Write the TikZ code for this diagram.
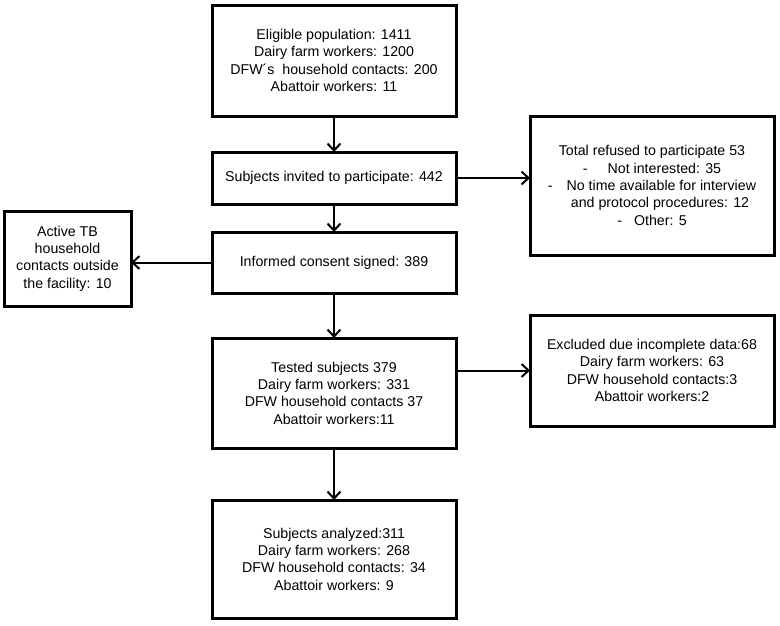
\documentclass[tikz,border=0pt]{standalone}
\usepackage{fontspec}
\setmainfont{Liberation Sans}
\usetikzlibrary{arrows.meta}
\usetikzlibrary{positioning}

\begin{document}
\begin{tikzpicture}[>={Straight Barb[length=7pt,width=13pt]},node distance=36pt,
                    box node/.style={rectangle,draw,line width=3pt,outer sep=0pt,minimum width=244pt,
                                     align=center,inner sep=2pt,font=\fontsize{14.2pt}{17.3pt}\selectfont},
                    flow/.style={->,line width=2pt}]

  \useasboundingbox (0,0) rectangle (780pt,-625pt);

  \node[box node,minimum height=111pt] (1) at (334pt,-60.5pt) {Eligible population: 1411\\Dairy farm workers: 1200\\DFW´s~ household contacts: 200\\Abattoir workers: 11};
  \node[box node,minimum height=52pt] (2) [below=36pt of 1] {Subjects invited to participate: 442};
  \node[box node,minimum height=61pt] (3) [below=28pt of 2] {Informed consent signed: 389};
  \node[box node,minimum height=110pt] (4) [below=45pt of 3] {Tested subjects 379\\Dairy farm workers: 331\\DFW household contacts 37\\Abattoir workers:11};
  \node[box node,minimum height=118pt] (5) [below=52pt of 4] {Subjects analyzed:311\\Dairy farm workers: 268\\DFW household contacts: 34\\Abattoir workers: 9};
  \node[box node,minimum height=139pt] (6) [right=74pt of 2,yshift=-7.5pt] {Total refused to participate 53\\-\hspace{20pt}Not interested: 35\\-\hspace{14pt}No time available for interview\\\hspace*{16pt}and protocol procedures: 12\\-\hspace{12pt}Other: 5};
  \node[box node,minimum height=111pt] (7) [right=74pt of 4,yshift=22.5pt] {Excluded due incomplete data:68\\Dairy farm workers: 63\\DFW household contacts:3\\Abattoir workers:2};
  \node[box node,minimum width=127pt,minimum height=95pt] (8) [left=81pt of 3,yshift=4pt] {Active TB\\household\\contacts outside\\the facility: 10};

  \draw[flow] (1) -- (2);
  \draw[flow] (2) -- (3);
  \draw[flow] (3) -- (4);
  \draw[flow] (4) -- (5);
  \draw[flow] (2.east) -- (2.east -| 6.west);
  \draw[flow] (3.west) -- (3.west -| 8.east);
  \draw[flow] (7.west -| 4.east) -- (7.west);
\end{tikzpicture}
\end{document}
